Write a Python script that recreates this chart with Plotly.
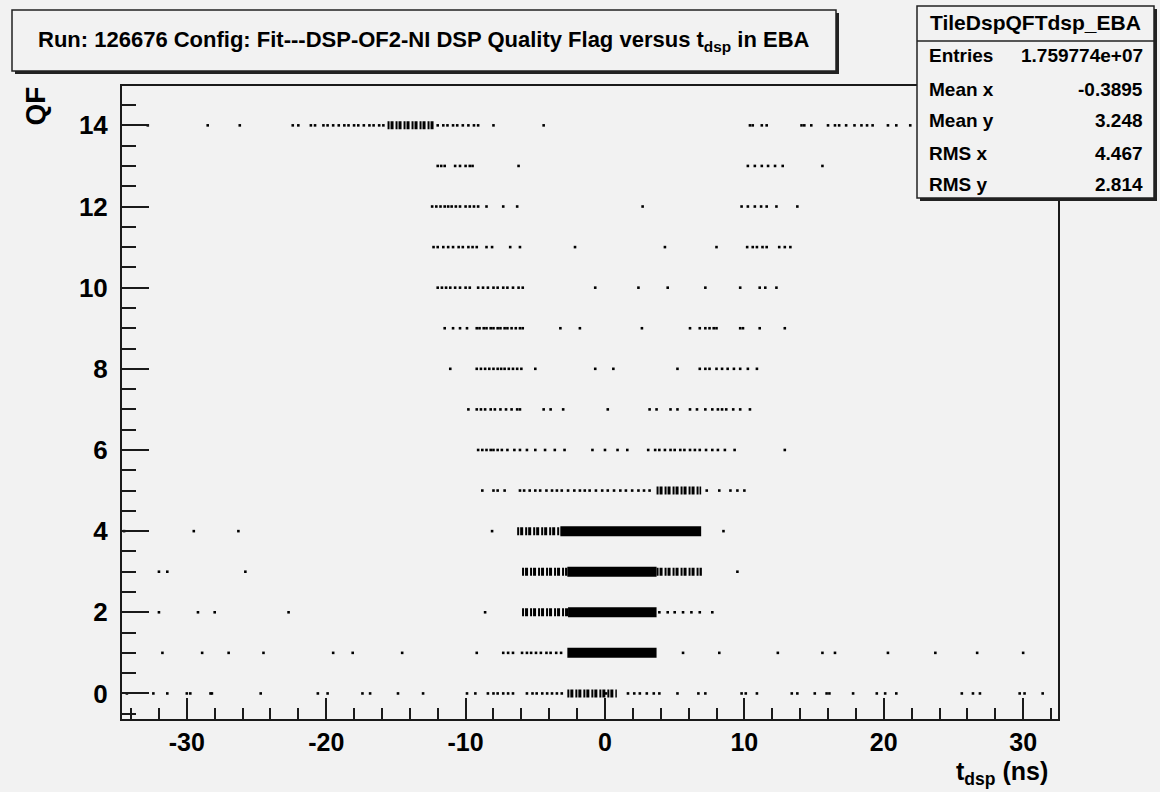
import plotly.graph_objects as go

# ---------------- data ----------------
# t_dsp positions (ns) of isolated scatter dots, per Quality-Flag row
t_qf14 = [-32.8, -28.5, -26.2, -22.4, -22.0, -21.1, -20.8, -20.2, -19.9, -19.5, -19.1, -18.7, -18.4,
          -18.0, -17.7, -17.3, -16.9, -16.6, -16.2, -15.9, -12.0, -11.6, -11.3, -10.9, -10.6, -10.2,
          -9.8, -9.4, -9.1, -8.0, -4.4, 10.4, 10.6, 11.25, 11.6, 14.1, 14.3, 14.8, 16.0, 16.5, 16.8,
          17.3, 17.9, 18.4, 18.8, 19.2, 20.3, 20.9, 21.9]
t_qf13 = [-12.0, -11.75, -11.5, -10.75, -10.4, -10.0, -9.7, -9.5, -6.2, 10.25, 10.75, 11.25, 11.7,
          12.2, 12.75, 15.6]
t_qf12 = [-12.4, -12.1, -11.8, -11.5, -11.25, -11.0, -10.7, -10.4, -10.0, -9.7, -9.4, -9.1, -8.5,
          -7.3, -6.3, 2.7, 9.8, 10.25, 10.75, 11.2, 11.6, 12.3, 13.8]
t_qf11 = [-12.3, -12.0, -11.6, -11.25, -10.9, -10.5, -10.2, -9.8, -9.5, -9.2, -8.5, -8.1, -6.8, -6.1,
          -2.15, 4.3, 8.0, 10.2, 10.6, 10.9, 11.3, 11.6, 12.5, 12.9, 13.3]
t_qf10 = [-12.0, -11.7, -11.4, -11.1, -10.75, -10.4, -10.0, -9.7, -9.1, -8.75, -8.4, -8.0, -7.7,
          -7.3, -7.0, -6.6, -6.2, -5.9, -0.7, 2.4, 4.5, 7.2, 9.7, 11.1, 11.5, 12.3]
t_qf9 = [-11.5, -10.9, -10.4, -9.9, -9.2, -9.0, -8.7, -8.5, -8.2, -8.0, -7.7, -7.5, -7.2, -7.0, -6.7,
         -6.4, -6.1, -5.9, -3.2, -1.8, 2.65, 6.1, 6.8, 7.2, 7.5, 7.8, 8.0, 9.7, 9.9, 11.1, 12.9]
t_qf8 = [-11.1, -9.2, -8.9, -8.6, -8.3, -8.0, -7.7, -7.45, -7.2, -6.9, -6.6, -6.3, -6.0, -5.0, -0.7,
         0.6, 5.2, 6.8, 7.2, 7.5, 8.0, 8.4, 8.8, 9.25, 9.7, 10.25, 10.9]
t_qf7 = [-9.8, -9.2, -8.9, -8.6, -8.2, -7.9, -7.5, -7.1, -6.7, -6.3, -6.1, -4.4, -3.9, -3.0, 0.2, 3.2,
         3.7, 4.7, 5.2, 6.1, 6.6, 7.2, 7.7, 8.1, 8.4, 8.7, 9.2, 9.7, 10.4]
t_qf6 = [-9.1, -8.8, -8.5, -8.2, -8.0, -7.7, -7.4, -7.0, -6.5, -6.1, -5.6, -5.0, -4.3, -3.6, -2.9,
         -0.9, 0.0, 0.9, 1.6, 3.1, 3.6, 3.9, 4.3, 4.7, 5.0, 5.4, 5.7, 6.1, 6.45, 6.8, 7.25, 7.7, 8.1,
         8.6, 9.3, 12.9]
t_qf5 = [-8.8, -8.0, -7.7, -7.2, -6.1, -5.8, -5.4, -5.0, -4.65, -4.2, -3.8, -3.45, -3.1, -2.65, -2.2,
         -1.8, -1.45, -1.1, -0.65, -0.2, 0.2, 0.65, 1.1, 1.5, 1.95, 2.4, 2.8, 3.2, 7.3, 8.2, 9.0, 9.5,
         10.0]
t_qf4 = [-34.5, -29.5, -26.3, -8.1, 8.5]
t_qf3 = [-32.0, -31.4, -25.8, 9.5]
t_qf2 = [-32.0, -29.2, -28.0, -22.7, -8.6, 3.9, 4.5, 5.0, 5.6, 6.2, 6.8, 7.7]
t_qf1 = [-31.75, -28.9, -27.0, -24.5, -19.5, -18.1, -14.55, -9.2, -7.3, -6.95, -6.6, -5.95, -5.6,
         -5.3, -4.95, -4.6, -4.2, -3.9, -3.5, -3.15, 5.6, 8.2, 12.4, 15.6, 16.5, 20.3, 23.7, 26.7, 30.0]
t_qf0 = [-34.3, -32.4, -31.4, -30.0, -29.75, -28.3, -28.2, -24.7, -20.6, -19.9, -17.4, -16.85, -14.85,
         -13.05, -9.9, -9.3, -8.4, -8.0, -7.7, -7.3, -6.95, -6.6, -5.6, -5.2, -4.9, -4.5, -4.15, -3.8,
         -3.45, -3.1, 0.07, 1.65, 2.1, 2.5, 3.0, 3.5, 3.9, 5.2, 6.7, 7.2, 9.8, 10.1, 10.9, 13.4, 13.8,
         15.05, 15.9, 16.1, 17.8, 19.5, 20.1, 20.9, 25.6, 26.4, 26.9, 29.75, 30.1, 31.4]

# saturated (fully black) regions: QF row, t start, t end
solid_qf = [4, 3, 2, 1]
solid_t0 = [-3.2, -2.7, -2.65, -2.7]
solid_t1 = [6.9, 3.7, 3.7, 3.7]

# dense but not saturated regions
dense_qf = [14, 5, 4, 3, 3, 2, 0]
dense_t0 = [-15.6, 3.7, -6.3, -5.95, 3.7, -5.95, -2.7]
dense_t1 = [-12.3, 6.9, -3.2, -2.7, 6.95, -2.65, 0.85]

x_ticks = [-30, -20, -10, 0, 10, 20, 30]
y_ticks = [0, 2, 4, 6, 8, 10, 12, 14]

stats_labels = ["Entries", "Mean x", "Mean y", "RMS x", "RMS y"]
stats_values = ["1.759774e+07", "-0.3895", "3.248", "4.467", "2.814"]

rows = [t_qf0, t_qf1, t_qf2, t_qf3, t_qf4, t_qf5, t_qf6, t_qf7,
        t_qf8, t_qf9, t_qf10, t_qf11, t_qf12, t_qf13, t_qf14]

# ---------------- figure ----------------
W, H = 1160, 792
L, R, T, B = 122, 102, 86, 73
PW, PH = W - L - R, H - T - B
BG = "#f2f2f2"
FONT = "Liberation Sans, Arial, sans-serif"


def px(x):
    return (x - L) / PW


def py(y):
    return (H - B - y) / PH


fig = go.Figure()

dx, dy = [], []
for q, row in enumerate(rows):
    dx.extend(row)
    dy.extend([q] * len(row))
fig.add_trace(go.Scatter(x=dx, y=dy, mode="markers",
                         marker=dict(symbol="square", size=2.6, color="black", line=dict(width=0)),
                         showlegend=False, hoverinfo="skip"))

bx, by = [], []
for q, a, b in zip(dense_qf, dense_t0, dense_t1):
    bx += [a, b, None]
    by += [q, q, None]
fig.add_trace(go.Scatter(x=bx, y=by, mode="lines",
                         line=dict(color="black", width=8, dash="2px,1px,3px,2px"),
                         showlegend=False, hoverinfo="skip"))

sx, sy = [], []
for q, a, b in zip(solid_qf, solid_t0, solid_t1):
    sx += [a, b, None]
    sy += [q, q, None]
fig.add_trace(go.Scatter(x=sx, y=sy, mode="lines",
                         line=dict(color="black", width=10),
                         showlegend=False, hoverinfo="skip"))

axis_common = dict(showgrid=False, zeroline=False, showline=True, mirror=True,
                   linecolor="#1a1a1a", linewidth=2, ticks="inside", tickcolor="#1a1a1a",
                   tickwidth=2)

fig.update_xaxes(range=[-34.65, 32.5], tickmode="array", tickvals=x_ticks,
                 ticktext=[str(v) for v in x_ticks], ticklen=21, ticklabelstandoff=0,
                 tickfont=dict(family=FONT, size=25, color="black", weight="bold"),
                 minor=dict(dtick=2, tick0=0, ticks="inside", ticklen=11, tickwidth=2,
                            tickcolor="#1a1a1a"),
                 **axis_common)
fig.update_yaxes(range=[-0.63, 14.97], tickmode="array", tickvals=y_ticks,
                 ticktext=[str(v) for v in y_ticks], ticklen=27, ticklabelstandoff=7,
                 tickfont=dict(family=FONT, size=26, color="black", weight="bold"),
                 minor=dict(dtick=0.5, tick0=0, ticks="inside", ticklen=14, tickwidth=2,
                            tickcolor="#1a1a1a"),
                 **axis_common)

shapes = []
# title box with shadow
shapes.append(dict(type="rect", xref="paper", yref="paper", x0=px(15), x1=px(839), y0=py(74), y1=py(13),
                   fillcolor="#222222", line=dict(width=0)))
shapes.append(dict(type="rect", xref="paper", yref="paper", x0=px(12), x1=px(836), y0=py(71), y1=py(10),
                   fillcolor=BG, line=dict(color="#222222", width=1.5)))
# stats box with shadow
shapes.append(dict(type="rect", xref="paper", yref="paper", x0=px(920), x1=px(1157), y0=py(201), y1=py(9),
                   fillcolor="#222222", line=dict(width=0)))
shapes.append(dict(type="rect", xref="paper", yref="paper", x0=px(917), x1=px(1154), y0=py(198), y1=py(6),
                   fillcolor=BG, line=dict(color="#222222", width=1.5)))
shapes.append(dict(type="line", xref="paper", yref="paper", x0=px(917), x1=px(1154), y0=py(41), y1=py(41),
                   line=dict(color="#222222", width=1.5)))

ann = []
ann.append(dict(xref="paper", yref="paper", x=px(424), y=py(41), xanchor="center", yanchor="middle",
                text="<b>Run: 126676 Config: Fit---DSP-OF2-NI DSP Quality Flag versus t<sub>dsp</sub> in EBA</b>",
                showarrow=False, font=dict(family=FONT, size=22, color="black")))
ann.append(dict(xref="paper", yref="paper", x=px(1035), y=py(23), xanchor="center", yanchor="middle",
                text="<b>TileDspQFTdsp_EBA</b>", showarrow=False,
                font=dict(family=FONT, size=21, color="black")))
row_y = [56, 89, 121, 153, 185]
for lab, val, yy in zip(stats_labels, stats_values, row_y):
    ann.append(dict(xref="paper", yref="paper", x=px(927), y=py(yy), xanchor="left", yanchor="middle",
                    text="<b>" + lab + "</b>", showarrow=False,
                    font=dict(family=FONT, size=19, color="black")))
    ann.append(dict(xref="paper", yref="paper", x=px(1145), y=py(yy), xanchor="right", yanchor="middle",
                    text="<b>" + val + "</b>", showarrow=False,
                    font=dict(family=FONT, size=19, color="black")))
ann.append(dict(xref="paper", yref="paper", x=px(35), y=py(85), xanchor="center", yanchor="top",
                text="<b>QF</b>", textangle=-90, showarrow=False,
                font=dict(family=FONT, size=28, color="black")))
ann.append(dict(xref="paper", yref="paper", x=px(1050), y=py(791), xanchor="right", yanchor="bottom",
                text="<b>t<sub>dsp</sub> (ns)</b>", showarrow=False,
                font=dict(family=FONT, size=25, color="black")))

fig.update_layout(width=W, height=H, autosize=False,
                  margin=dict(l=L, r=R, t=T, b=B, pad=0),
                  paper_bgcolor=BG, plot_bgcolor=BG,
                  shapes=shapes, annotations=ann, showlegend=False)

fig.write_html("out.html", config={"displayModeBar": False})
